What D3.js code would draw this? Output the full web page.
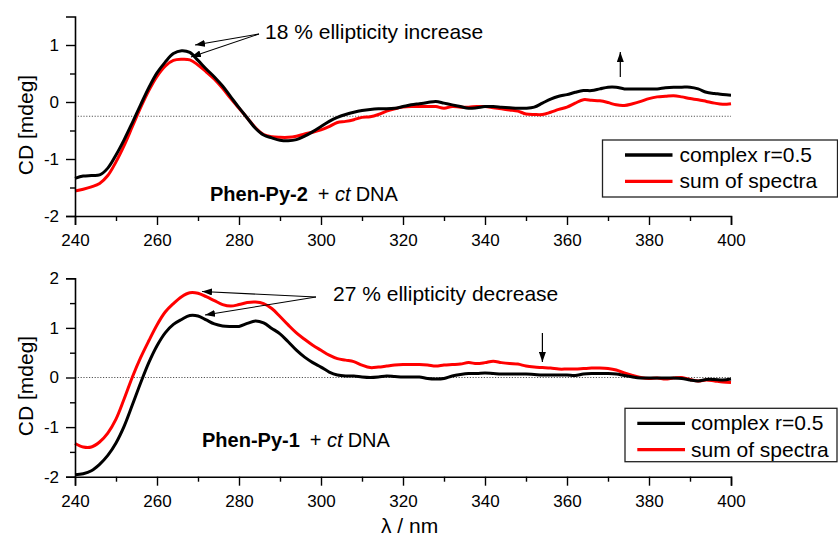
<!DOCTYPE html>
<html><head><meta charset="utf-8">
<script src="https://cdn.jsdelivr.net/npm/d3@7"></script>
<style>
body{margin:0;background:#fff;}
text{font-family:"Liberation Sans",Arial,sans-serif;fill:#000;}
</style></head>
<body>
<svg id="chart" width="838" height="539"></svg>
<script>
const wavelengths = [240,242,244,246,248,250,252,254,256,258,260,262,264,266,268,270,272,274,276,278,280,282,284,286,288,290,292,294,296,298,300,302,304,306,308,310,312,314,316,318,320,322,324,326,328,330,332,334,336,338,340,342,344,346,348,350,352,354,356,358,360,362,364,366,368,370,372,374,376,378,380,382,384,386,388,390,392,394,396,398,400];

// Top panel: Phen-Py-2 + ct DNA
const py2Complex = [-1.34,-1.30,-1.29,-1.28,-1.16,-0.93,-0.66,-0.36,-0.05,0.25,0.51,0.70,0.85,0.90,0.87,0.73,0.58,0.44,0.28,0.09,-0.10,-0.28,-0.46,-0.58,-0.63,-0.67,-0.68,-0.66,-0.60,-0.52,-0.43,-0.34,-0.27,-0.22,-0.18,-0.15,-0.13,-0.12,-0.12,-0.11,-0.08,-0.05,-0.03,-0.01,0.01,-0.02,-0.05,-0.08,-0.11,-0.10,-0.08,-0.08,-0.09,-0.10,-0.11,-0.11,-0.09,-0.02,0.05,0.10,0.13,0.17,0.20,0.20,0.23,0.26,0.26,0.23,0.23,0.23,0.23,0.23,0.25,0.26,0.26,0.26,0.23,0.17,0.15,0.13,0.12];
const py2Sum = [-1.56,-1.53,-1.49,-1.43,-1.29,-1.05,-0.76,-0.43,-0.10,0.20,0.45,0.63,0.73,0.75,0.74,0.65,0.53,0.40,0.24,0.06,-0.11,-0.28,-0.45,-0.57,-0.61,-0.62,-0.62,-0.60,-0.56,-0.53,-0.49,-0.43,-0.36,-0.34,-0.31,-0.27,-0.26,-0.22,-0.16,-0.12,-0.09,-0.08,-0.08,-0.08,-0.08,-0.11,-0.08,-0.09,-0.09,-0.08,-0.08,-0.10,-0.12,-0.14,-0.16,-0.21,-0.22,-0.22,-0.18,-0.13,-0.09,-0.02,0.04,0.03,0.02,-0.01,-0.05,-0.06,-0.03,0.01,0.06,0.09,0.10,0.11,0.09,0.06,0.04,0.01,-0.02,-0.04,-0.03];

// Bottom panel: Phen-Py-1 + ct DNA
const py1Complex = [-1.96,-1.94,-1.88,-1.75,-1.57,-1.32,-0.98,-0.55,-0.11,0.30,0.64,0.90,1.07,1.17,1.25,1.24,1.16,1.08,1.04,1.03,1.03,1.09,1.14,1.10,0.99,0.88,0.72,0.55,0.41,0.30,0.21,0.11,0.05,0.03,0.03,0.01,0.00,0.01,0.03,0.02,0.01,0.01,0.01,-0.02,-0.03,-0.02,0.03,0.06,0.08,0.08,0.09,0.08,0.07,0.07,0.07,0.07,0.06,0.05,0.05,0.05,0.05,0.04,0.07,0.08,0.08,0.08,0.07,0.04,0.01,-0.01,-0.01,-0.01,-0.01,-0.01,-0.02,-0.05,-0.07,-0.04,-0.04,-0.05,-0.03];
const py1Sum = [-1.33,-1.40,-1.40,-1.30,-1.12,-0.84,-0.43,0.01,0.40,0.74,1.06,1.32,1.49,1.63,1.71,1.70,1.63,1.55,1.47,1.44,1.47,1.51,1.52,1.49,1.39,1.23,1.06,0.90,0.77,0.65,0.55,0.45,0.38,0.35,0.32,0.25,0.20,0.21,0.23,0.25,0.26,0.26,0.26,0.25,0.23,0.25,0.26,0.27,0.30,0.28,0.30,0.33,0.30,0.28,0.27,0.23,0.21,0.20,0.19,0.17,0.17,0.17,0.18,0.19,0.19,0.18,0.15,0.09,0.04,0.00,-0.02,-0.01,-0.03,-0.01,0.00,-0.04,-0.07,-0.05,-0.07,-0.09,-0.10];

const seriesNames = ["complex r=0.5", "sum of spectra"];
const seriesColors = ["#000000", "#ff0000"];
const xMajorTicks = [240,260,280,300,320,340,360,380,400];
const xMinorTicks = [250,270,290,310,330,350,370,390];
const topYMajor = [-2,-1,0,1];
const topYMinor = [-1.5,-0.5,0.5];
const botYMajor = [-2,-1,0,1,2];
const botYMinor = [-1.5,-0.5,0.5,1.5];
const topAnnotation = "18 % ellipticity increase";
const botAnnotation = "27 % ellipticity decrease";
const yTitle = "CD [mdeg]";
const xTitle = "λ / nm";

const svg = d3.select("#chart");
const defs = svg.append("defs");
defs.append("marker").attr("id","ah").attr("viewBox","0 0 10 7")
  .attr("refX",10).attr("refY",3.5).attr("markerWidth",10).attr("markerHeight",7)
  .attr("markerUnits","userSpaceOnUse").attr("orient","auto")
  .append("path").attr("d","M0,0L10,3.5L0,7z").attr("fill","#000");

const x = d3.scaleLinear().domain([240,400]).range([75,731]);
const fmt = d => String(d);

function panel(cfg){
  const y = d3.scaleLinear().domain(cfg.yDomain).range(cfg.yRange);
  const g = svg.append("g");
  const y0 = cfg.yRange[0];
  g.append("line").attr("x1",x(240)).attr("x2",x(400))
    .attr("y1",y(cfg.refLevel)).attr("y2",y(cfg.refLevel))
    .attr("stroke","#555").attr("stroke-width",1).attr("stroke-dasharray","1.2,1.6");
  const line = d3.line().x((d,i)=>x(wavelengths[i])).y(d=>y(d)).curve(d3.curveCatmullRom.alpha(0.5));
  [cfg.sum, cfg.complex].forEach((s,k)=>{
    g.append("path").datum(s).attr("d",line).attr("fill","none")
      .attr("stroke", k===0?seriesColors[1]:seriesColors[0]).attr("stroke-width",3)
      .attr("stroke-linejoin","round");
  });
  g.append("g").attr("transform",`translate(0,${y0})`)
    .call(d3.axisBottom(x).tickValues(xMajorTicks).tickSize(9).tickPadding(9).tickFormat(fmt));
  g.append("g").attr("transform",`translate(0,${y0})`)
    .call(d3.axisBottom(x).tickValues(xMinorTicks).tickSize(5).tickFormat(""))
    .select(".domain").remove();
  g.append("g").attr("transform",`translate(${x(240)},0)`)
    .call(d3.axisLeft(y).tickValues(cfg.yMajor).tickSize(9).tickPadding(7).tickFormat(fmt));
  g.append("g").attr("transform",`translate(${x(240)},0)`)
    .call(d3.axisLeft(y).tickValues(cfg.yMinor).tickSize(5).tickFormat(""))
    .select(".domain").remove();
  g.selectAll(".domain").attr("stroke","#000").attr("stroke-width",1.6);
  g.selectAll(".tick line").attr("stroke","#000").attr("stroke-width",1.4);
  g.selectAll(".tick text").attr("font-size",17).attr("font-family","'Liberation Sans',Arial,sans-serif").attr("fill","#000");
  g.append("text").attr("transform",`translate(33,${cfg.yTitleY}) rotate(-90)`)
    .attr("text-anchor","middle").attr("font-size",21).text(yTitle);
  const t = g.append("text").attr("x",cfg.labelX).attr("y",cfg.labelY).attr("font-size",20);
  t.append("tspan").attr("font-weight","bold").text(cfg.compound);
  t.append("tspan").attr("dx",10).text("+ ");
  t.append("tspan").attr("font-style","italic").text("ct");
  t.append("tspan").attr("dx",5).text("DNA");
  const L = cfg.legend;
  g.append("rect").attr("x",L.x).attr("y",L.y).attr("width",L.w).attr("height",L.h)
    .attr("fill","#fff").attr("stroke","#222").attr("stroke-width",1.3);
  seriesNames.forEach((n,i)=>{
    const ly = L.y + 15 + i*26.3;
    g.append("line").attr("x1",L.x+L.lx1).attr("x2",L.x+L.lx2).attr("y1",ly).attr("y2",ly)
      .attr("stroke",seriesColors[i]).attr("stroke-width",3.3);
    g.append("text").attr("x",L.x+L.tx).attr("y",ly+7).attr("font-size",21).text(n);
  });
  g.append("text").attr("x",cfg.ann.x).attr("y",cfg.ann.y).attr("font-size",21).text(cfg.ann.text);
  cfg.ann.tips.forEach(tp=>{
    g.append("line").attr("x1",cfg.ann.from[0]).attr("y1",cfg.ann.from[1])
      .attr("x2",tp[0]).attr("y2",tp[1]).attr("stroke","#000").attr("stroke-width",1.1)
      .attr("marker-end","url(#ah)");
  });
  const va = cfg.vArrow;
  g.append("line").attr("x1",x(va.lambda)).attr("x2",x(va.lambda))
    .attr("y1",va.y1).attr("y2",va.y2).attr("stroke","#000").attr("stroke-width",1.2)
    .attr("marker-end","url(#ah)");
}

panel({
  yDomain:[-2,1.5], yRange:[216,16.5], refLevel:-0.25,
  complex:py2Complex, sum:py2Sum, yMajor:topYMajor, yMinor:topYMinor,
  yTitleY:125, compound:"Phen-Py-2", labelX:210, labelY:201,
  legend:{x:602.5,y:140,w:235,h:57,lx1:22.5,lx2:70,tx:77},
  ann:{text:topAnnotation, x:265, y:39, from:[259,34], tips:[[195,45],[191,57]]},
  vArrow:{lambda:373, y1:77, y2:52}
});
panel({
  yDomain:[-2,2], yRange:[476.7,278.3], refLevel:0,
  complex:py1Complex, sum:py1Sum, yMajor:botYMajor, yMinor:botYMinor,
  yTitleY:386, compound:"Phen-Py-1", labelX:202, labelY:447,
  legend:{x:625,y:408.3,w:212,h:53.4,lx1:12.3,lx2:60,tx:66},
  ann:{text:botAnnotation, x:333, y:301, from:[316,297], tips:[[202,291.5],[205,315]]},
  vArrow:{lambda:354, y1:333, y2:362}
});

svg.append("text").attr("x",381).attr("y",533).attr("font-size",21).text(xTitle);
</script>
</body></html>
